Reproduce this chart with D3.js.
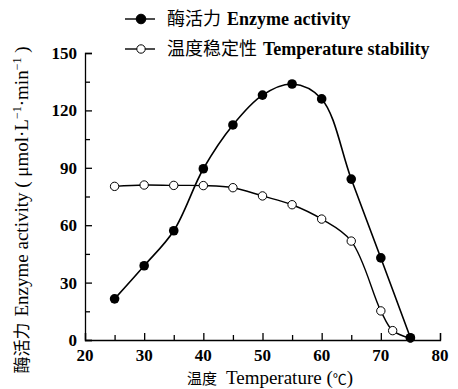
<!DOCTYPE html>
<html>
<head>
<meta charset="utf-8">
<script src="https://cdn.jsdelivr.net/npm/d3@7"></script>
<style>
  body { margin: 0; background: #fff; }
  svg { display: block; }
  text { font-family: "Liberation Serif", "Noto Sans CJK SC", serif; fill: #000; }
  .cjk { font-family: "Noto Sans CJK SC", sans-serif; }
</style>
</head>
<body>
<div id="chart"></div>
<script>
// values
const temps = [25, 30, 35, 40, 45, 50, 55, 60, 65, 70, 75];
const enzyme = [21.5, 38.8, 57.1, 89.5, 112.4, 128, 133.8, 126, 84.1, 42.9, 1.2];
const stabTemps = [25, 30, 35, 40, 45, 50, 55, 60, 65, 70, 72, 75];
const stability = [80.3, 81, 80.8, 80.7, 79.6, 75.3, 70.7, 63.2, 51.7, 15.2, 4.9, 1];
const xTicks = [20, 30, 40, 50, 60, 70, 80];
const xMinor = [25, 35, 45, 55, 65, 75];
const yTicks = [0, 30, 60, 90, 120, 150];
const yMinor = [15, 45, 75, 105, 135];
const legendCjk = ["酶活力", "温度稳定性"];
const legendLatin = ["Enzyme activity", "Temperature stability"];

const W = 458, H = 389;
const svg = d3.select("#chart").append("svg").attr("width", W).attr("height", H);

const x = d3.scaleLinear().domain([20, 80]).range([85, 440]);
const y = d3.scaleLinear().domain([0, 150]).range([340, 53]);

// axes, ticks pointing inward
const gx = svg.append("g").attr("transform", `translate(0,${y(0)})`);
gx.call(d3.axisTop(x).tickValues(xTicks).tickSize(7).tickFormat(""));
gx.append("g").call(d3.axisTop(x).tickValues(xMinor).tickSize(5).tickFormat(""))
  .select(".domain").remove();
gx.selectAll("line, path").attr("stroke", "#000").attr("stroke-width", 1.3);
gx.selectAll(".tick-lbl").data(xTicks).enter().append("text")
  .attr("x", d => x(d)).attr("y", 21)
  .attr("text-anchor", "middle").attr("font-size", 17).attr("font-weight", "bold")
  .text(d => d);

const gy = svg.append("g").attr("transform", `translate(${x(20)},0)`);
gy.call(d3.axisRight(y).tickValues(yTicks).tickSize(7).tickFormat(""));
gy.append("g").call(d3.axisRight(y).tickValues(yMinor).tickSize(5).tickFormat(""))
  .select(".domain").remove();
gy.selectAll("line, path").attr("stroke", "#000").attr("stroke-width", 1.3);
gy.selectAll(".tick-lbl").data(yTicks).enter().append("text")
  .attr("x", -8).attr("y", d => y(d) + 6)
  .attr("text-anchor", "end").attr("font-size", 17).attr("font-weight", "bold")
  .text(d => d);

// axis titles
const xt = svg.append("text").attr("x", 270).attr("y", 384)
  .attr("text-anchor", "middle").attr("font-size", 19);
xt.append("tspan").attr("class", "cjk").attr("font-size", 15).text("温度");
xt.append("tspan").attr("dx", 9).text("Temperature (");
xt.append("tspan").attr("class", "cjk").attr("font-size", 14).text("℃");
xt.append("tspan").text(")");

const yt = svg.append("text")
  .attr("transform", `translate(28,${(382 + 38) / 2}) rotate(-90)`)
  .attr("text-anchor", "middle").attr("font-size", 19);
yt.append("tspan").attr("class", "cjk").attr("font-size", 17).text("酶活力");
yt.append("tspan").attr("dx", 6).text("Enzyme activity ( μmol·L");
yt.append("tspan").attr("font-size", 12).attr("dy", -7).text("−1");
yt.append("tspan").attr("dy", 7).text("·min");
yt.append("tspan").attr("font-size", 12).attr("dy", -7).text("−1");
yt.append("tspan").attr("dy", 7).text(" )");

// curves
const line = d3.line().curve(d3.curveCatmullRom.alpha(0.5))
  .x(d => x(d[0])).y(d => y(d[1]));

const enzPts = temps.map((t, i) => [t, enzyme[i]]);
const stabPts = stabTemps.map((t, i) => [t, stability[i]]);

svg.append("path").datum(stabPts).attr("d", line)
  .attr("fill", "none").attr("stroke", "#000").attr("stroke-width", 1.4);
svg.append("path").datum(enzPts).attr("d", line)
  .attr("fill", "none").attr("stroke", "#000").attr("stroke-width", 1.6);

svg.selectAll(".stab").data(stabPts).enter().append("circle")
  .attr("cx", d => x(d[0])).attr("cy", d => y(d[1])).attr("r", 4.2)
  .attr("fill", "#fff").attr("stroke", "#000").attr("stroke-width", 1);
svg.selectAll(".enz").data(enzPts).enter().append("circle")
  .attr("cx", d => x(d[0])).attr("cy", d => y(d[1])).attr("r", 4.8)
  .attr("fill", "#000");

// legend
const lg = svg.append("g");
legendCjk.forEach((lbl, i) => {
  const ly = 19 + i * 30;
  lg.append("line").attr("x1", 125).attr("x2", 155).attr("y1", ly).attr("y2", ly)
    .attr("stroke", "#000").attr("stroke-width", 1.4);
  lg.append("circle").attr("cx", 141).attr("cy", ly).attr("r", i === 0 ? 4.8 : 4.2)
    .attr("fill", i === 0 ? "#000" : "#fff").attr("stroke", "#000").attr("stroke-width", 1);
  const t = lg.append("text").attr("x", 167).attr("y", ly + 6).attr("font-size", 18);
  t.append("tspan").attr("class", "cjk").attr("font-size", 18).text(lbl);
  t.append("tspan").attr("dx", 6).attr("font-weight", "bold").text(legendLatin[i]);
});
</script>
</body>
</html>
